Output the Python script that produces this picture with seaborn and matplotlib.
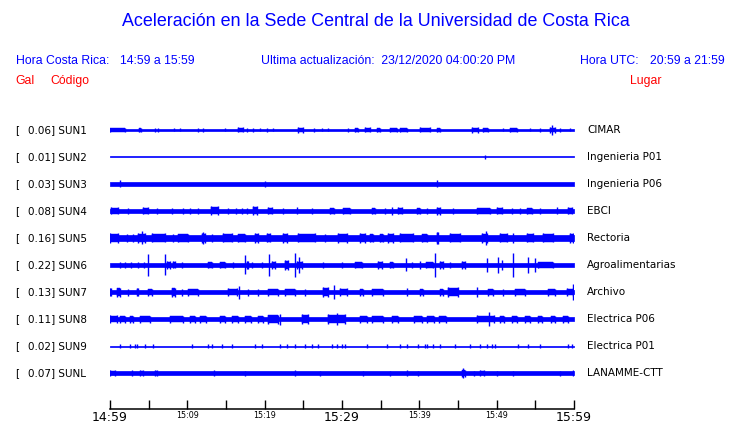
import matplotlib
matplotlib.use("Agg")
import matplotlib.pyplot as plt
import seaborn as sns

# ---------------- datos ----------------
estaciones = ['SUN1', 'SUN2', 'SUN3', 'SUN4', 'SUN5', 'SUN6', 'SUN7', 'SUN8', 'SUN9', 'SUNL']
gal_max = [0.06, 0.01, 0.03, 0.08, 0.16, 0.22, 0.13, 0.11, 0.02, 0.07]
lugares = ['CIMAR', 'Ingenieria P01', 'Ingenieria P06', 'EBCI', 'Rectoria',
           'Agroalimentarias', 'Archivo', 'Electrica P06', 'Electrica P01', 'LANAMME-CTT']

# nivel de ruido de fondo de cada traza (semi-amplitud, en unidades de pantalla)
ruido_base = [0.8, 0.5, 2.1, 2.0, 3.2, 1.9, 2.4, 2.2, 0.5, 1.7]

# rafagas: (minuto inicio, minuto fin, semi-amplitud), minutos desde las 14:59
rafagas = {
    'SUN1': [(0.0, 1.9, 2), (3.8, 4.0, 2), (5.8, 5.8, 2), (6.2, 6.2, 2), (8.3, 8.3, 1.5),
             (9.1, 9.1, 1.5), (11.4, 11.4, 2), (12.0, 12.0, 2), (14.9, 14.9, 1.5),
             (16.6, 17.2, 2.5), (17.7, 17.7, 2), (18.5, 18.5, 2), (19.4, 19.4, 1.5),
             (20.3, 20.3, 2), (21.1, 21.1, 1.5), (24.3, 25.0, 3), (26.4, 26.4, 2),
             (27.4, 27.4, 1.5), (28.2, 28.2, 1.5), (30.8, 30.8, 2), (31.7, 32.1, 2),
             (33.0, 33.6, 2.5), (34.5, 34.9, 2), (36.2, 37.1, 2), (37.5, 38.4, 2),
             (40.1, 41.4, 2.5), (42.3, 42.7, 2), (46.8, 47.6, 3), (48.2, 48.9, 2),
             (50.8, 50.8, 1.5), (51.7, 52.6, 2), (54.3, 54.3, 1.5), (55.6, 55.6, 2),
             (56.9, 57.5, 3), (57.2, 57.2, 5), (58.2, 58.2, 2), (59.5, 59.5, 1.5)],
    'SUN2': [(48.5, 48.5, 2)],
    'SUN3': [(1.3, 1.3, 3.5), (20.0, 20.0, 3), (42.3, 42.3, 3.5)],
    'SUN4': [(0.1, 1.0, 3.5), (2.3, 2.3, 3), (4.3, 4.9, 3.5), (6.1, 6.1, 3), (8.0, 8.0, 3),
             (9.4, 9.4, 3), (10.3, 10.3, 3), (11.4, 11.4, 3), (13.1, 14.0, 4.5),
             (15.3, 15.3, 3), (16.3, 16.3, 3), (17.1, 17.1, 3), (17.7, 17.7, 3),
             (18.5, 19.0, 4.5), (20.4, 20.9, 3.5), (22.4, 22.4, 3), (24.2, 24.2, 3.5),
             (26.1, 26.1, 3), (28.4, 29.0, 3), (30.1, 31.0, 3), (33.9, 34.3, 3),
             (35.6, 35.6, 3), (36.5, 36.5, 4), (37.2, 37.8, 3.5), (39.7, 40.1, 3),
             (41.0, 41.0, 3), (42.3, 42.7, 4), (44.4, 44.4, 3), (47.5, 49.1, 3),
             (50.0, 50.7, 3.5), (52.0, 52.0, 3), (53.0, 53.0, 3), (53.9, 54.6, 3),
             (55.6, 55.6, 3), (57.8, 57.8, 3.5), (59.2, 59.7, 3.5)],
    'SUN5': [(0.0, 1.0, 5), (2.2, 2.2, 4), (3.0, 3.0, 4), (3.6, 4.5, 5), (4.1, 4.1, 6.5),
             (5.4, 7.1, 4.5), (8.1, 8.1, 4), (8.8, 10.1, 4), (11.9, 12.3, 5), (12.0, 12.0, 6),
             (13.2, 13.2, 4), (14.6, 15.8, 4.5), (16.6, 17.5, 4), (18.8, 19.1, 5),
             (20.3, 20.7, 4.5), (22.4, 22.9, 5), (24.3, 26.5, 4.5), (27.8, 27.8, 4),
             (29.5, 30.6, 5), (32.3, 33.0, 5), (33.6, 34.0, 4), (34.9, 35.3, 4),
             (35.9, 36.6, 5), (37.5, 39.2, 4.5), (40.3, 41.0, 4), (42.3, 42.4, 6),
             (44.0, 45.3, 4.5), (48.1, 48.8, 5), (48.6, 48.6, 7), (50.4, 51.3, 4.5),
             (52.1, 52.1, 5), (53.9, 54.7, 4.5), (56.0, 57.3, 4.5), (59.5, 59.9, 5)],
    'SUN6': [(4.9, 4.9, 11), (7.1, 7.1, 10.5), (17.5, 17.5, 9.5), (20.6, 20.6, 11),
             (23.9, 23.9, 12), (24.5, 24.5, 8), (38.3, 38.3, 6.5), (42.0, 42.0, 12),
             (48.8, 48.8, 7), (50.2, 50.2, 8), (52.1, 52.1, 12), (54.1, 54.1, 8),
             (55.0, 55.0, 7),
             (1.3, 1.3, 3), (1.9, 1.9, 3), (2.7, 2.7, 3), (3.6, 3.6, 3), (4.4, 4.4, 3),
             (7.4, 7.8, 4), (8.1, 8.4, 3.5), (9.3, 9.3, 3), (12.7, 13.2, 3), (14.2, 14.9, 3),
             (15.9, 15.9, 3), (17.7, 17.8, 4), (18.4, 18.4, 3), (19.7, 19.7, 3),
             (20.9, 21.3, 4), (22.6, 23.0, 5), (24.2, 24.8, 4), (27.5, 27.5, 3),
             (30.0, 30.0, 3), (31.7, 32.6, 3), (34.7, 35.2, 4), (36.2, 36.6, 3),
             (39.1, 39.1, 3), (40.1, 40.1, 4), (40.9, 41.8, 3), (42.7, 43.1, 4),
             (44.0, 44.0, 3), (45.5, 45.9, 4), (50.7, 50.7, 5), (55.3, 57.3, 3)],
    'SUN7': [(0.0, 0.1, 4), (0.9, 1.3, 4.5), (2.3, 2.3, 3.5), (3.5, 3.6, 4), (4.9, 5.4, 3.5),
             (8.0, 8.4, 4.5), (9.3, 9.3, 3.5), (10.1, 11.4, 3.5), (15.3, 16.4, 4),
             (16.7, 16.7, 6.5), (17.8, 17.8, 3.5), (19.1, 19.1, 3.5), (20.4, 21.7, 3.5),
             (22.6, 23.9, 3.5), (25.2, 25.2, 3.5), (27.5, 28.2, 5), (29.0, 29.0, 7),
             (29.7, 30.6, 4), (32.3, 32.7, 3.5), (33.9, 35.3, 3.5), (38.4, 38.4, 4),
             (40.1, 40.5, 3.5), (42.7, 43.1, 3.5), (43.7, 45.0, 5), (47.5, 47.5, 5),
             (48.9, 49.5, 3.5), (50.8, 50.8, 3.5), (52.4, 53.7, 3.5), (56.6, 57.5, 3.5),
             (59.1, 59.9, 4), (59.9, 59.9, 8)],
    'SUN8': [(0.0, 0.9, 4), (1.3, 1.9, 3.5), (2.6, 3.0, 3.5), (3.9, 5.2, 3.5), (7.8, 9.4, 3.5),
             (10.3, 11.0, 3.5), (11.6, 12.4, 3.5), (14.2, 14.9, 3.5), (15.8, 16.6, 3.5),
             (17.5, 18.2, 3.5), (19.1, 19.8, 3.5), (20.4, 21.7, 4.5), (22.0, 22.0, 5.5),
             (24.8, 25.6, 5), (28.2, 30.4, 5), (29.4, 29.4, 6), (32.3, 33.2, 3.5),
             (33.9, 35.3, 3.5), (36.5, 37.3, 3.5), (39.3, 40.3, 3.5), (41.0, 41.9, 3.5),
             (42.6, 43.5, 3.5), (47.5, 49.6, 4), (49.0, 49.0, 7), (50.4, 51.0, 3.5),
             (52.0, 52.6, 3.5), (53.6, 54.3, 3.5), (55.3, 55.9, 3.5), (57.0, 57.5, 3.5),
             (58.6, 59.2, 3.5)],
    'SUN9': [(t, t, 2) for t in [1.3, 2.6, 3.2, 3.5, 4.5, 5.6, 10.6, 12.7, 13.2, 14.5,
                                 15.8, 18.8, 19.7, 22.0, 22.9, 23.9, 25.2, 26.1, 26.9,
                                 28.7, 29.3, 30.0, 30.4, 33.2, 35.8, 37.5, 38.4, 39.8,
                                 40.7, 41.0, 41.8, 42.7, 44.6, 46.6, 47.8, 48.8, 49.4,
                                 49.8, 52.8, 54.1, 55.6, 59.2, 59.7]],
    'SUNL': [(0.0, 0.7, 2.8), (2.9, 2.9, 3), (3.9, 4.3, 3), (5.8, 6.1, 3), (13.4, 13.4, 3),
             (17.5, 17.5, 2.5), (23.9, 23.9, 3), (27.2, 27.2, 2.5), (32.7, 32.7, 2.5),
             (36.2, 36.2, 2.5), (38.4, 38.4, 3), (39.8, 39.8, 2.5), (45.5, 45.9, 3.5),
             (45.7, 45.7, 5), (47.1, 47.1, 2.5), (47.9, 48.4, 3), (50.0, 50.0, 2.5),
             (52.1, 52.1, 2.5), (58.2, 58.2, 2.5), (59.9, 59.9, 3)],
}

minutos_ticks = list(range(0, 61, 5))
etiquetas_ticks = ['14:59', '', '15:09', '', '15:19', '', '15:29', '', '15:39', '', '15:49', '', '15:59']
etiquetas_grandes = ['14:59', '15:29', '15:59']

titulo = 'Aceleración en la Sede Central de la Universidad de Costa Rica'
hora_cr = '14:59 a 15:59'
hora_utc = '20:59 a 21:59'
actualizacion = '23/12/2020 04:00:20 PM'

# ---------------- figura ----------------
W, H = 740, 423
ESCALA = 27.0  # separacion entre trazas en unidades de pantalla
AZUL = '#0000ff'
ROJO = '#ff0000'

sns.set_theme(style='white')
plt.rcParams['font.family'] = ['DejaVu Sans']

fig = plt.figure(figsize=(W / 100, H / 100), dpi=100)
fig.patch.set_facecolor('white')


def fig_xy(x, y):
    return x / W, 1 - y / H


ax = fig.add_axes([110 / W, (H - 409) / H, 464 / W, (409 - 118) / H])
ax.set_facecolor('white')

for i, est in enumerate(estaciones):
    y0 = -i
    b = ruido_base[i] / ESCALA
    ax.fill_between([0, 60], y0 - b, y0 + b, color=AZUL, lw=0.5, edgecolor=AZUL)
    for t0, t1, a in rafagas[est]:
        a = a / ESCALA
        if t1 > t0:
            # cuerpo de la rafaga algo mas bajo, con picos en los extremos
            m = b + (a - b) * 0.6
            ax.fill_between([t0, t1], y0 - m, y0 + m, color=AZUL, lw=0.3, edgecolor=AZUL)
            ax.vlines([t0, t1], y0 - a, y0 + a, color=AZUL, lw=1.0)
        else:
            ax.vlines(t0, y0 - a, y0 + a, color=AZUL, lw=1.0)

ax.set_xlim(0, 60)
ax.set_ylim(-10.333, 0.444)
ax.set_yticks([])
ax.set_xticks(minutos_ticks)
ax.set_xticklabels(etiquetas_ticks)
for lab in ax.get_xticklabels():
    lab.set_fontsize(9 if lab.get_text() in etiquetas_grandes else 5.8)
ax.tick_params(axis='x', direction='in', length=6.5, width=1.0, color='black',
               labelcolor='black', pad=1.5, bottom=True)
sns.despine(ax=ax, left=True, top=True, right=True)
ax.spines['bottom'].set_color('black')
ax.spines['bottom'].set_linewidth(1.1)

# textos de cabecera
sans = ['Liberation Sans', 'DejaVu Sans']
fig.text(*fig_xy(375.5, 22), titulo, ha='center', va='center', color=AZUL,
         fontsize=12.9, family=sans)
fig.text(*fig_xy(15.5, 61), 'Hora Costa Rica:', ha='left', va='center', color=AZUL,
         fontsize=8.8, family=sans)
fig.text(*fig_xy(120.5, 61), hora_cr, ha='left', va='center', color=AZUL,
         fontsize=8.8, family=sans)
fig.text(*fig_xy(261, 61), 'Ultima actualización:  ' + actualizacion, ha='left',
         va='center', color=AZUL, fontsize=8.8, family=sans)
fig.text(*fig_xy(580, 61), 'Hora UTC:', ha='left', va='center', color=AZUL,
         fontsize=8.8, family=sans)
fig.text(*fig_xy(650, 61), hora_utc, ha='left', va='center', color=AZUL,
         fontsize=8.8, family=sans)
fig.text(*fig_xy(15, 81), 'Gal', ha='left', va='center', color=ROJO, fontsize=8.8, family=sans)
fig.text(*fig_xy(50, 81), 'Código', ha='left', va='center', color=ROJO, fontsize=8.8, family=sans)
fig.text(*fig_xy(630, 81), 'Lugar', ha='left', va='center', color=ROJO, fontsize=8.8, family=sans)

# etiquetas de cada traza
for i, est in enumerate(estaciones):
    y = 130 + 27 * i
    fig.text(*fig_xy(15, y), '[', ha='left', va='center', fontsize=7.5, color='black')
    fig.text(*fig_xy(27.7, y), '%.2f] %s' % (gal_max[i], est), ha='left', va='center',
             fontsize=7.5, color='black')
    fig.text(*fig_xy(587, y), lugares[i], ha='left', va='center', fontsize=7.5, color='black')

fig.savefig('out.png', dpi=100, facecolor='white')
